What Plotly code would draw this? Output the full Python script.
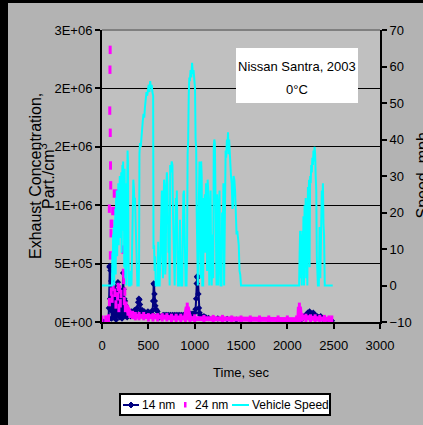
import plotly.graph_objects as go

# ---------------- data ----------------
speed_t = [0, 108, 112, 116, 120, 124, 128, 132, 136, 140, 144, 148, 152, 156, 160, 164, 168, 172, 176, 180,
           184, 188, 192, 196, 200, 204, 208, 212, 216, 220, 224, 228, 232, 236, 240, 244, 248, 252, 256, 260,
           264, 270, 276, 280, 286, 292, 305, 312, 318, 326, 330, 334, 338, 344, 350, 356, 362, 368, 374, 382,
           396, 400, 404, 410, 418, 424, 432, 440, 448, 456, 464, 472, 480, 488, 496, 504, 512, 520, 528, 536,
           544, 552, 556, 562, 568, 574, 580, 600, 606, 612, 622, 630, 640, 646, 652, 658, 664, 670, 676, 682,
           688, 694, 700, 706, 712, 718, 724, 730, 736, 744, 752, 760, 766, 772, 778, 784, 790, 796, 802, 808,
           814, 820, 830, 836, 842, 848, 854, 866, 872, 878, 884, 890, 896, 902, 912, 918, 924, 930, 936, 942,
           948, 956, 964, 972, 980, 988, 996, 1004, 1010, 1016, 1022, 1028, 1034, 1040, 1046, 1052, 1058, 1064,
           1070, 1076, 1082, 1092, 1098, 1104, 1110, 1116, 1122, 1128, 1134, 1140, 1146, 1152, 1158, 1166, 1172,
           1178, 1184, 1194, 1200, 1206, 1212, 1218, 1224, 1230, 1236, 1242, 1248, 1254, 1262, 1268, 1274, 1280,
           1290, 1296, 1302, 1310, 1318, 1326, 1334, 1340, 1348, 1354, 1360, 1366, 1372, 1378, 1384, 1392, 1400,
           1408, 1414, 1420, 1428, 1436, 1444, 1452, 1460, 1468, 1476, 1484, 1492, 1500, 2127, 2132, 2138, 2144,
           2150, 2156, 2162, 2168, 2174, 2180, 2186, 2192, 2198, 2204, 2210, 2216, 2222, 2228, 2234, 2240, 2246,
           2252, 2258, 2264, 2270, 2276, 2282, 2288, 2294, 2300, 2306, 2312, 2318, 2324, 2330, 2340, 2348, 2356,
           2364, 2372, 2378, 2384, 2390, 2396, 2404, 2490]
speed_mph = [0, 0, 9, 2, 14, 4, 16, 0, 18, 6, 21, 3, 24, 10, 26, 8, 25, 14, 28, 11,
             27, 16, 30, 13, 29, 20, 31, 9, 28, 33, 15, 34, 22, 30, 5, 32, 24, 2, 28, 12,
             0, 20, 37, 34, 8, 0, 0, 4, 0, 12, 18, 24, 29, 27, 22, 24, 18, 10, 3, 0,
             0, 6, 36, 39, 38, 41, 43, 45, 47, 46, 49, 51, 53, 52, 54, 55, 53, 56, 54, 55,
             53, 52, 10, 11, 4, 8, 0, 0, 12, 0, 0, 10, 25, 26, 8, 2, 22, 29, 26, 3,
             6, 27, 31, 28, 16, 9, 12, 0, 33, 31, 34, 33, 20, 12, 4, 0, 9, 24, 17, 26,
             10, 0, 0, 14, 18, 7, 0, 0, 20, 25, 26, 12, 5, 0, 0, 10, 36, 40, 52, 57,
             56, 59, 57, 61, 58, 59, 56, 54, 40, 38, 20, 4, 0, 14, 30, 34, 12, 2,
             34, 30, 0, 0, 24, 18, 25, 9, 28, 27, 4, 29, 26, 11, 0, 22, 26,
             5, 0, 14, 2, 38, 40, 39, 20, 6, 0, 25, 22, 0, 17, 26, 8, 0,
             0, 20, 10, 28, 0, 14, 37, 35, 40, 38, 42, 36, 40, 35, 31, 30, 28,
             21, 22, 30, 29, 26, 20, 14, 15, 12, 11, 4, 3, 0, 0, 8, 15, 2,
             14, 0, 15, 5, 19, 0, 22, 12, 24, 2, 23, 0, 27, 22, 29, 5, 30,
             28, 33, 31, 35, 33, 37, 34, 38, 36, 30, 26, 8, 2, 0, 0, 16, 2,
             20, 26, 22, 28, 17, 14, 0, 0]

nm14_t = [0, 60, 70, 75, 80, 84, 88, 92, 96, 100, 104, 108, 112, 116, 120, 124, 128, 132, 136, 140,
          144, 148, 152, 156, 160, 164, 168, 172, 176, 180, 184, 188, 192, 196, 200, 204, 208, 212, 216, 220,
          224, 228, 232, 236, 240, 244, 248, 252, 256, 260, 266, 272, 280, 290, 300, 310, 320, 330, 340, 350,
          360, 370, 380, 390, 398, 404, 410, 418, 426, 436, 446, 456, 466, 476, 486, 496, 506, 516, 526, 536,
          546, 552, 558, 562, 566, 570, 576, 582, 590, 598, 606, 620, 640, 660, 680, 700, 720, 740, 760, 780,
          800, 820, 840, 860, 880, 900, 920, 940, 960, 980, 1000, 1010, 1016, 1022, 1026, 1030, 1034, 1040,
          1046, 1052, 1060, 1080, 1100, 1120, 1150, 1200, 1250, 1300, 1350, 1400, 1450, 1500, 1600, 1700,
          1800, 1900, 2000, 2100, 2150, 2180, 2200, 2220, 2240, 2260, 2280, 2300, 2320, 2340, 2360, 2380,
          2400, 2440, 2480]
nm14_v = [1e4, 1.5e4, 2e4, 1.2e5, 4.7e5, 4.8e5, 2e5, 4.4e5, 1.0e5, 3.5e5, 3e4, 2.8e5, 1.5e5, 3.0e5, 4e4, 2.6e5, 1.2e5, 3.1e5, 5e4, 2.2e5,
          1.0e5, 2.7e5, 2e4, 2.0e5, 8e4, 2.5e5, 1.4e5, 3.4e5, 6e4, 2.2e5, 1.0e5, 2.6e5, 4e4, 2.0e5, 1.2e5, 2.4e5, 8e4, 1.8e5, 3e4, 2.6e5,
          1.5e5, 4.2e5, 2.8e5, 1.2e5, 2.0e5, 6e4, 1.8e5, 9e4, 1.4e5, 5e4, 1.0e5, 4e4, 8e4, 6e4, 9e4, 5e4, 9e4, 6e4, 8e4, 1.0e5,
          7e4, 8e4, 1.2e5, 1.7e5, 2.0e5, 1.9e5, 1.5e5, 1.0e5, 8e4, 1.0e5, 8e4, 9e4, 7e4, 8e4, 7e4, 9e4, 7e4, 8e4, 6e4, 7e4,
          1.0e5, 1.8e5, 3.3e5, 3.2e5, 2.4e5, 1.8e5, 1.4e5, 1.1e5, 1.0e5, 9e4, 6e4, 4e4, 5e4, 6e4, 6e4, 6e4, 6e4, 6e4, 6e4, 6e4,
          6e4, 6e4, 6e4, 6e4, 6e4, 6e4, 6e4, 6e4, 7e4, 7e4, 8e4, 1.1e5, 2.0e5, 3.3e5, 3.9e5, 3.8e5, 3.9e5, 2.4e5,
          1.2e5, 8e4, 6e4, 4e4, 5e4, 4e4, 3.5e4, 3e4, 3e4, 2.5e4, 2.5e4, 2.5e4, 2e4, 2e4, 2e4, 2e4,
          2e4, 2e4, 1.5e4, 1.5e4, 2e4, 5e4, 6e4, 8e4, 9e4, 7e4, 8e4, 6e4, 5e4, 4e4, 5e4, 3e4,
          3e4, 2e4, 1e4]

nm24_t = [0, 40, 70, 79, 80, 84, 86, 88, 89, 90, 92, 94, 97, 98, 100, 107, 110, 115, 120, 125,
          132, 138, 143, 150, 161, 168, 175, 182, 190, 198, 205, 215, 219, 225, 230, 234, 240, 246, 252, 260,
          280, 300, 330, 360, 400, 450, 500, 550, 600, 650, 700, 750, 800, 850, 900, 920, 930, 937, 950, 1000,
          1100, 1200, 1300, 1400, 1500, 1600, 1700, 1800, 1900, 2000, 2100, 2125, 2130, 2140, 2160, 2200, 2250, 2300,
          2350, 2400, 2450, 2480]
nm24_v = [2e4, 2e4, 3e4, 9.7e5, 1.7e5, 1.81e6, 2.16e6, 2.33e6, 1.62e6, 5.7e5, 1.34e6, 1.17e6, 7.6e5, 8.4e5, 2.6e5, 8.4e5, 2.0e5, 9.5e5, 3.0e5, 6.3e5,
          1.1e6, 2.5e5, 9.5e5, 1.5e5, 1.1e6, 2.2e5, 3.0e5, 1.2e5, 2.8e5, 1.6e5, 2.4e5, 1.19e6, 1.02e6, 6.2e5, 4.2e5, 3.6e5, 1.8e5, 2.6e5, 1.2e5, 1.4e5,
          9e4, 7e4, 6e4, 5e4, 5e4, 5e4, 4e4, 4e4, 4e4, 4e4, 4e4, 3.5e4, 3.5e4, 3.5e4, 3.5e4, 1.3e5, 6e4, 5e4, 3e4, 3e4,
          2.5e4, 2.5e4, 2.5e4, 2e4, 2e4, 2e4, 2e4, 2e4, 2e4, 2e4, 2e4, 2e4, 1.3e5, 5e4, 4e4, 3.5e4, 3e4, 3e4,
          2.5e4, 2.5e4, 2e4, 2e4]

series_names = ["14 nm", "24 nm", "Vehicle Speed"]
conc_tickvals = [0, 5e5, 1e6, 1.5e6, 2e6, 2.5e6]
conc_ticktext = ["0E+00", "5E+05", "1E+06", "2E+06", "2E+06", "3E+06"]
speed_ticks = [-10, 0, 10, 20, 30, 40, 50, 60, 70]

# ---------------- layout helpers ----------------
W, H = 423, 425
L, R, T, B = 102, 43, 30, 103
PW, PH = W - L - R, H - T - B

def px(x):
    return (x - L) / PW

def py(y):
    return (H - B - y) / PH

FONT = "Liberation Sans, Arial, sans-serif"
NAVY, MAGENTA, CYAN = "#000080", "#FF00FF", "#00FFFF"

band_from = 39  # from this index on the 24 nm markers merge into a continuous band
fig = go.Figure()
fig.add_trace(go.Scatter(x=nm14_t, y=nm14_v, name=series_names[0], mode="lines+markers",
                         line=dict(color=NAVY, width=2),
                         marker=dict(symbol="diamond", size=5, color=NAVY)))
fig.add_trace(go.Scatter(x=nm24_t[band_from:], y=nm24_v[band_from:], mode="lines", name=series_names[1],
                         line=dict(color=MAGENTA, width=5), hoverinfo="skip"))
fig.add_trace(go.Scatter(x=nm24_t, y=nm24_v, name=series_names[1], mode="markers",
                         marker=dict(symbol="line-ns", size=6, color=MAGENTA,
                                     line=dict(color=MAGENTA, width=3))))
fig.add_trace(go.Scatter(x=speed_t, y=speed_mph, name=series_names[2], mode="lines", yaxis="y2",
                         line=dict(color=CYAN, width=2)))

axfont = dict(family=FONT, size=13, color="black")
fig.update_layout(
    width=W, height=H, autosize=False,
    margin=dict(l=L, r=R, t=T, b=B, pad=0, autoexpand=False),
    paper_bgcolor="#B3B3B3", plot_bgcolor="#C0C0C0",
    font=dict(family=FONT, size=13, color="black"),
    showlegend=False,
    xaxis=dict(range=[0, 3000], tickmode="linear", tick0=0, dtick=500, showgrid=False, zeroline=False,
               showline=True, linecolor="black", linewidth=2, ticks="outside", ticklen=5, tickwidth=1.5,
               tickcolor="black", tickfont=axfont, ticklabelstandoff=5, automargin=False,
               title=dict(text="Time, sec", font=axfont, standoff=16)),
    yaxis=dict(range=[0, 2.5e6], tickvals=conc_tickvals, ticktext=conc_ticktext, showgrid=True,
               gridcolor="black", gridwidth=1, zeroline=False, showline=True, linecolor="black",
               linewidth=2, ticks="outside", ticklen=5, tickwidth=1.5, tickcolor="black", tickfont=axfont,
               automargin=False),
    yaxis2=dict(range=[-10, 70], tickvals=speed_ticks, overlaying="y", side="right", showgrid=False,
                zeroline=False, showline=True, linecolor="black", linewidth=2, ticks="outside",
                ticklen=5, tickwidth=1.5, tickcolor="black", tickfont=axfont, automargin=False),
    yaxis3=dict(range=[-10, 70], tickvals=speed_ticks, overlaying="y", side="right", anchor="x",
                showgrid=False, zeroline=False, showline=False, ticks="inside", ticklen=4, tickwidth=1.5,
                tickcolor="black", showticklabels=False, automargin=False),
)

shapes = [
    # black strips of the original screenshot frame
    dict(type="rect", xref="paper", yref="paper", x0=px(0), x1=px(8), y0=py(H), y1=py(0),
         fillcolor="black", line=dict(width=0), layer="below"),
    dict(type="rect", xref="paper", yref="paper", x0=px(0), x1=px(W), y0=py(3), y1=py(0),
         fillcolor="black", line=dict(width=0), layer="below"),
    # top border of plot area
    dict(type="line", xref="paper", yref="paper", x0=0, x1=1, y0=1, y1=1,
         line=dict(color="#808080", width=2), layer="above"),
    # annotation box
    dict(type="rect", xref="paper", yref="paper", x0=px(236), x1=px(358), y0=py(103), y1=py(48),
         fillcolor="white", line=dict(width=0), layer="above"),
    # legend box and keys
    dict(type="rect", xref="paper", yref="paper", x0=px(120), x1=px(330), y0=py(415), y1=py(394),
         fillcolor="white", line=dict(color="black", width=2), layer="above"),
    dict(type="line", xref="paper", yref="paper", x0=px(123), x1=px(139), y0=py(405), y1=py(405),
         line=dict(color=NAVY, width=2), layer="above"),
    dict(type="path", xref="paper", yref="paper", layer="above", fillcolor=NAVY, line=dict(color=NAVY, width=1),
         path="M {a},{b} L {c},{d} L {a},{e} L {f},{d} Z".format(
             a=px(131), b=py(402), c=px(134), d=py(405), e=py(408), f=px(128))),
    dict(type="rect", xref="paper", yref="paper", x0=px(184), x1=px(186.5), y0=py(407.5), y1=py(402),
         fillcolor=MAGENTA, line=dict(width=0), layer="above"),
    dict(type="line", xref="paper", yref="paper", x0=px(232), x1=px(249), y0=py(405), y1=py(405),
         line=dict(color=CYAN, width=2), layer="above"),
]
fig.update_layout(shapes=shapes)

legend_text_x = [141, 194, 251]
annotations = [
    dict(text="Nissan Santra, 2003", x=px(297), y=py(66), xref="paper", yref="paper",
         showarrow=False, font=dict(family=FONT, size=13, color="black"), xanchor="center", yanchor="middle"),
    dict(text="0°C", x=px(297), y=py(89), xref="paper", yref="paper",
         showarrow=False, font=dict(family=FONT, size=13, color="black"), xanchor="center", yanchor="middle"),
    dict(text="Exhaust Concentration,", x=px(35), y=py(176), xref="paper", yref="paper", textangle=-90,
         showarrow=False, font=dict(family=FONT, size=16, color="black"), xanchor="center", yanchor="middle"),
    dict(text="Part./cm<sup>3</sup>", x=px(47), y=py(176), xref="paper", yref="paper", textangle=-90,
         showarrow=False, font=dict(family=FONT, size=16, color="black"), xanchor="center", yanchor="middle"),
    dict(text="Speed, mph", x=px(411), y=py(176), xref="paper", yref="paper", textangle=-90,
         showarrow=False, font=dict(family=FONT, size=16, color="black"), xanchor="left", yanchor="middle"),
]
for name, tx in zip(series_names, legend_text_x):
    annotations.append(dict(text=name, x=px(tx), y=py(405), xref="paper", yref="paper", showarrow=False,
                            font=dict(family=FONT, size=12, color="black"), xanchor="left", yanchor="middle",
                            borderpad=0))
fig.update_layout(annotations=annotations)

fig.write_html("out.html", config={"displayModeBar": False},
               post_script="document.body.style.margin='0px';document.body.style.padding='0px';")
